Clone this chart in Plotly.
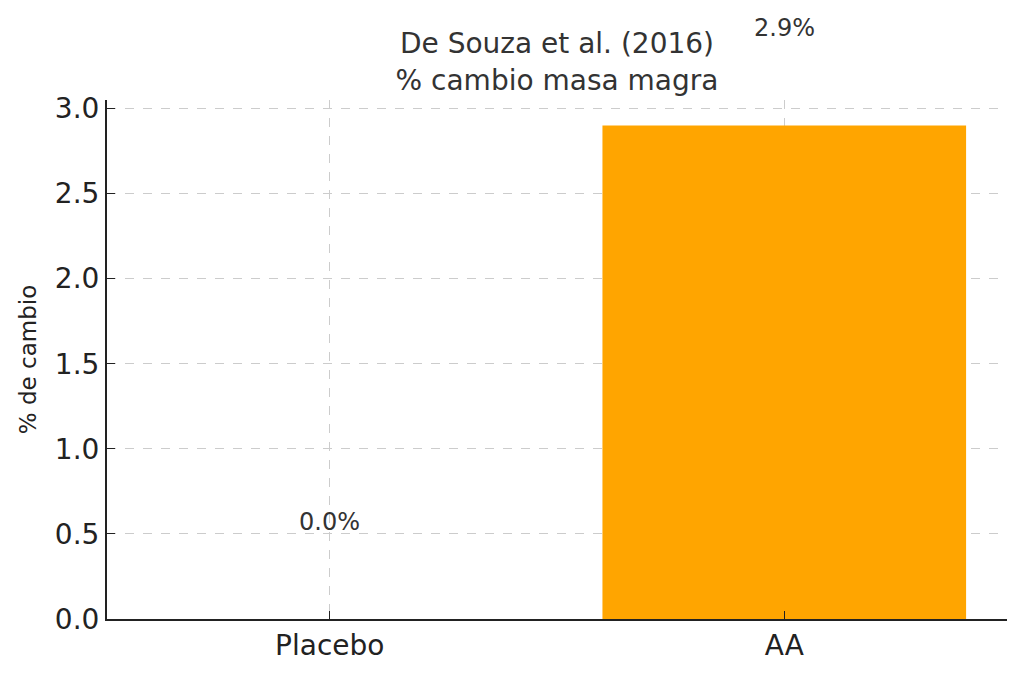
import plotly.graph_objects as go

# Datos: De Souza et al. (2016), % cambio de masa magra
grupos = ["Placebo", "AA"]
cambio = [0.0, 2.9]
colores = ["#FFA500", "#FFA500"]
etiquetas = [f"{v:.1f}%" for v in cambio]
desfase_etiqueta = 0.5  # las etiquetas van 0.5 por encima del valor
rango_y = [0, 3.05]

fig = go.Figure()
fig.add_trace(go.Bar(
    x=grupos, y=cambio,
    marker=dict(color=colores, line=dict(width=0)),
    width=0.8,
))

# etiquetas encima de cada barra; se usa "y domain" para que no se oculten
# cuando quedan por encima del rango del eje
for g, v, t in zip(grupos, cambio, etiquetas):
    fig.add_annotation(
        x=g, xref="x", yref="y domain",
        y=(v + desfase_etiqueta - rango_y[0]) / (rango_y[1] - rango_y[0]),
        text=t, showarrow=False, yanchor="bottom", xanchor="center",
        yshift=-4, font=dict(size=24, color="#333333"),
    )

# la página tiene 8px de margen en el body: se compensa aquí
fig.update_layout(
    width=1016, height=666,
    plot_bgcolor="white", paper_bgcolor="white",
    font=dict(family="DejaVu Sans", color="#222222"),
    title=dict(
        text="De Souza et al. (2016)<br>% cambio masa magra",
        x=(557 - 8) / 1016, xanchor="center", y=0.932, yanchor="top",
        font=dict(size=28, color="#333333"),
    ),
    margin=dict(l=99, r=17, t=92, b=55),
    showlegend=False,
)
fig.update_xaxes(
    range=[-0.49, 1.49],
    showgrid=True, gridcolor="#cccccc", griddash="dash", gridwidth=1,
    showline=True, linecolor="#222222", linewidth=2,
    ticks="inside", ticklen=8, tickcolor="#222222",
    tickfont=dict(size=28),
)
fig.update_yaxes(
    range=rango_y, dtick=0.5, tickformat=".1f",
    showgrid=True, gridcolor="#cccccc", griddash="dash", gridwidth=1,
    showline=True, linecolor="#222222", linewidth=2,
    ticks="inside", ticklen=8, tickcolor="#222222",
    tickfont=dict(size=28), zeroline=False,
    title=dict(text="% de cambio", font=dict(size=23), standoff=12),
)

fig.write_html("out.html")
